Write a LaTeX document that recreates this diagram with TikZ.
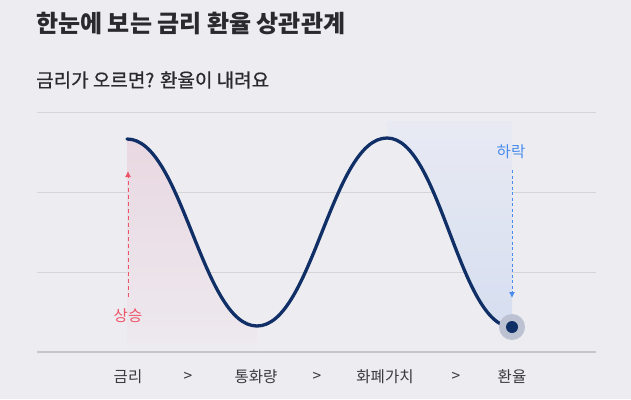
\documentclass[tikz,border=0pt]{standalone}
\usepackage{fontspec}
\setmainfont{Noto Sans CJK KR}
\usetikzlibrary{arrows.meta,positioning}

\definecolor{bgcol}{RGB}{237,236,241}
\definecolor{navy}{RGB}{16,47,102}
\definecolor{gridcol}{RGB}{213,212,217}
\definecolor{axiscol}{RGB}{198,197,202}
\definecolor{upred}{RGB}{238,84,104}
\definecolor{downblue}{RGB}{72,140,238}
\definecolor{txtcol}{RGB}{58,58,62}
\definecolor{titlecol}{RGB}{42,42,46}
\definecolor{pinktop}{RGB}{233,216,225}
\definecolor{pinkbot}{RGB}{237,233,238}
\definecolor{bluetop}{RGB}{232,234,243}
\definecolor{bluebot}{RGB}{214,222,240}

\tikzset{
  gridline/.style={gridcol, line width=1pt},
  steplabel/.style={font=\fontsize{15.5}{18}\selectfont, text=txtcol, inner sep=0pt},
  movelabel/.style={font=\fontsize{15.5}{18}\selectfont, inner sep=0pt},
}

\begin{document}
\begin{tikzpicture}[x=1pt, y=-1pt]
  % background
  \useasboundingbox (0,0) rectangle (631,399);
  \fill[bgcol] (0,0) rectangle (631,399);

  % titles
  \node[anchor=west, inner sep=0pt, text=titlecol, font=\bfseries\fontsize{24}{28}\selectfont] (title) at (36,23) {한눈에 보는 금리 환율 상관관계};
  \node[anchor=west, inner sep=0pt, text=titlecol, font=\addfontfeatures{FakeBold=0.7}\fontsize{19}{22}\selectfont] (subtitle) at (36,80) {금리가 오르면? 환율이 내려요};

  % grid
  \foreach \y in {112,192,272}
    \draw[gridline] (37,\y) -- (596,\y);
  \draw[axiscol, line width=2pt] (37,352) -- (596,352);

  % curve points
  \coordinate (top1) at (127,139);
  \coordinate (low1) at (257,326);
  \coordinate (top2) at (387,138);
  \coordinate (fxend) at (512,327);

  % shaded areas
  \shade[top color=pinktop, bottom color=pinkbot]
    (top1) .. controls (182,139) and (202,326) .. (low1) -- (257,344) -- (127,344) -- cycle;
  \shade[top color=bluetop, bottom color=bluebot]
    (387,121) -- (top2) .. controls (440,138) and (459,327) .. (fxend) -- (512,121) -- cycle;

  % wave
  \draw[navy, line width=3.3pt, line cap=round]
    (top1) .. controls (182,139) and (202,326) .. (low1)
           .. controls (312,326) and (332,138) .. (top2)
           .. controls (440,138) and (459,327) .. (fxend);

  % end dot
  \fill[navy!22!bgcol] (fxend) circle (13);
  \fill[navy] (fxend) circle (6);

  % up arrow
  \coordinate (risefrom) at (128,297);
  \coordinate (riseto) at (128,171);
  \draw[upred, line width=1pt, dash pattern=on 4pt off 3pt, -{Latex[length=6pt,width=6pt]}] (risefrom) -- (riseto);
  \node[movelabel, text=upred] (rise) at (128,316) {상승};

  % down arrow
  \coordinate (fallfrom) at (512,170);
  \coordinate (fallto) at (512,298);
  \draw[downblue, line width=1pt, dash pattern=on 3pt off 2.5pt, -{Latex[length=6pt,width=6pt]}] (fallfrom) -- (fallto);
  \node[movelabel, text=downblue] (fall) at (511,152) {하락};

  % chain
  \node[steplabel] (rate) at (128,377) {금리};
  \node[steplabel] (gt1) at (188,377) {>};
  \node[steplabel] (money) at (256,377) {통화량};
  \node[steplabel] (gt2) at (317,377) {>};
  \node[steplabel] (value) at (385,377) {화폐가치};
  \node[steplabel] (gt3) at (456,377) {>};
  \node[steplabel] (fx) at (512,377) {환율};
\end{tikzpicture}
\end{document}
